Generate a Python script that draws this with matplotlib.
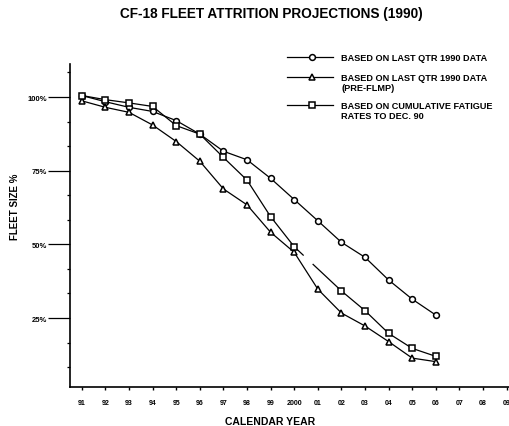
import numpy as np
import matplotlib
matplotlib.use('Agg')
import matplotlib.pyplot as plt
from matplotlib.lines import Line2D
from matplotlib.ticker import FixedLocator

plt.rcParams['font.family'] = ['Liberation Sans', 'DejaVu Sans']
plt.rcParams['font.weight'] = 'bold'

# data (fleet size %)
years = np.arange(1991, 2007)
last_qtr = [100.5, 98.4, 96.5, 95.1, 92.0, 87.4, 81.6, 78.7, 72.4, 65.2,
            58.0, 50.7, 45.6, 37.9, 31.4, 26.0]
pre_flmp = [98.7, 96.5, 94.8, 90.5, 84.9, 78.2, 68.8, 63.4, 54.1, 47.3,
            34.8, 26.7, 22.3, 17.0, 11.4, 10.2]
fatigue = [100.5, 99.1, 98.0, 96.8, 90.3, 87.4, 79.5, 71.8, 59.4, 49.2,
           np.nan, 34.2, 27.5, 19.8, 14.7, 12.0]

tick_years = np.arange(1991, 2010)
tick_labels = ['91', '92', '93', '94', '95', '96', '97', '98', '99', '2000',
               '01', '02', '03', '04', '05', '06', '07', '08', '09']
y_major = [25, 50, 75, 100]
y_major_labels = ['25%', '50%', '75%', '100%']

labels = ['BASED ON LAST QTR 1990 DATA',
          'BASED ON LAST QTR 1990 DATA\n(PRE-FLMP)',
          'BASED ON CUMULATIVE FATIGUE\nRATES TO DEC. 90']
markers = ['o', '^', 's']

W, H = 509, 427
fig = plt.figure(figsize=(W / 100, H / 100), dpi=100)
ax = fig.add_axes([70 / W, 1 - 388 / H, 1 - 70 / W, (388 - 65) / H])

lw = 0.9
mk = dict(markersize=4.2, markeredgewidth=1.1, markerfacecolor='white', markeredgecolor='black')

ax.plot(years, last_qtr, color='black', lw=lw, marker='o', **mk)
ax.plot(years, pre_flmp, color='black', lw=lw, marker='^', **mk)

# cumulative fatigue series: broken line across the missing 2001 point
fat = np.array(fatigue)
ok = ~np.isnan(fat)
ax.plot(years[:10], fat[:10], color='black', lw=lw)
ax.plot(years[11:], fat[11:], color='black', lw=lw)
x0, x1 = years[9], years[11]
y0, y1 = fat[9], fat[11]
for a, b in [(0.0, 0.19), (0.40, 1.0)]:
    ax.plot([x0 + a * (x1 - x0), x0 + b * (x1 - x0)],
            [y0 + a * (y1 - y0), y0 + b * (y1 - y0)], color='black', lw=lw)
ax.plot(years[ok], fat[ok], linestyle='none', marker='s', **mk)

ax.set_xlim(1990.5, 2009.1)
ax.set_ylim(1.6, 111.2)

for s in ['top', 'right']:
    ax.spines[s].set_visible(False)
ax.spines['left'].set_linewidth(1.2)
ax.spines['bottom'].set_linewidth(1.2)

ax.set_xticks(tick_years)
ax.set_xticklabels(tick_labels, fontsize=5, fontweight='bold')
ax.tick_params(axis='x', length=2.5, width=1, pad=6)

ax.set_yticks(y_major)
ax.set_yticklabels(y_major_labels, fontsize=5.5, fontweight='bold')
ax.tick_params(axis='y', which='major', length=16, width=0.9, pad=0.5)
ax.yaxis.set_minor_locator(FixedLocator([v for v in np.arange(25 / 3, 111, 25 / 3)
                                         if abs(v / 25 - round(v / 25)) > 0.01]))
ax.tick_params(axis='y', which='minor', length=2.5, width=0.9)

ax.set_xlabel('CALENDAR YEAR', fontsize=7.5, fontweight='bold')
ax.xaxis.set_label_coords((270 - 70) / (W - 70), -29 / (388 - 65))
ax.set_ylabel('FLEET SIZE %', fontsize=7, fontweight='bold')
ax.yaxis.set_label_coords(-50 / (W - 70), (388 - 207) / (388 - 65))

fig.text(271 / W, 1 - 14 / H, 'CF-18 FLEET ATTRITION PROJECTIONS (1990)', fontsize=9.8,
         fontweight='bold', ha='center', va='center')

# legend, handle level with the first text line as in the original
for lab, m, ypx in zip(labels, markers, [58, 78, 106]):
    yf = 1 - ypx / H
    fig.add_artist(Line2D([287 / W, 333 / W], [yf, yf], color='black', lw=lw))
    fig.add_artist(Line2D([312 / W], [yf], marker=m, **mk))
    fig.text(341 / W, yf + 4 / H, lab, fontsize=6.6, fontweight='bold',
             ha='left', va='top', linespacing=1.2)

fig.savefig('out.png', dpi=100)
